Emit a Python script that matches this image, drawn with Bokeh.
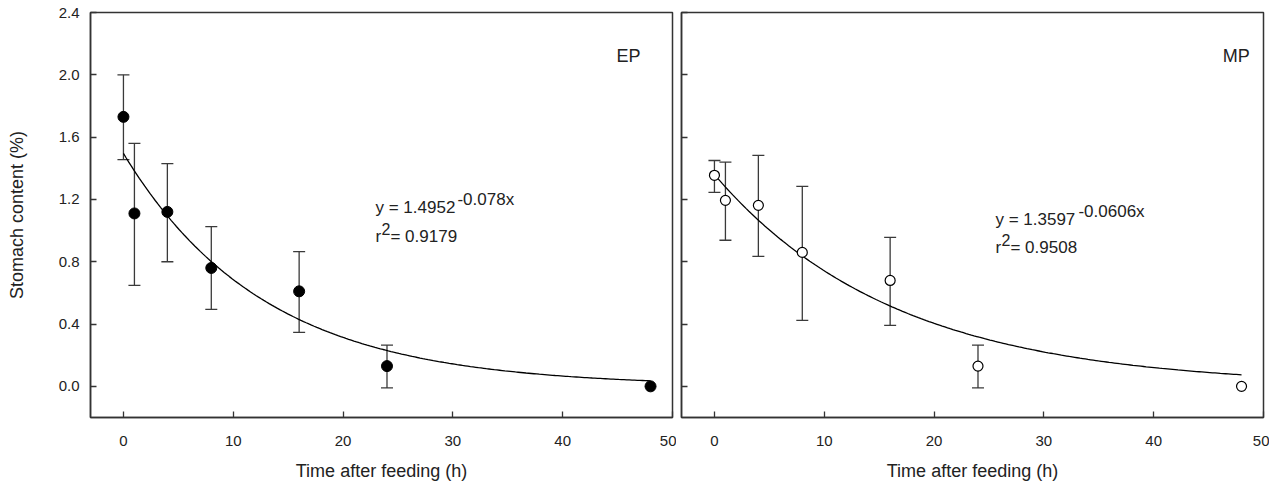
from bokeh.plotting import figure
from bokeh.layouts import row
from bokeh.models import (ColumnDataSource, Whisker, TeeHead, Label, FixedTicker,
                          NumeralTickFormatter, Range1d)
from bokeh.embed import file_html
from bokeh.resources import INLINE
import numpy as np

# ---------------- data ----------------
time_h = [0, 1, 4, 8, 16, 24, 48]
ep_mean = [1.73, 1.11, 1.12, 0.76, 0.61, 0.13, 0.0]
ep_upper = [2.00, 1.56, 1.43, 1.025, 0.865, 0.265]
ep_lower = [1.455, 0.648, 0.80, 0.494, 0.347, -0.01]
mp_mean = [1.355, 1.194, 1.162, 0.86, 0.68, 0.13, 0.0]
mp_upper = [1.45, 1.44, 1.483, 1.284, 0.956, 0.265]
mp_lower = [1.245, 0.938, 0.834, 0.424, 0.392, -0.01]

ep_a, ep_b, ep_r2 = 1.4952, -0.078, 0.9179
mp_a, mp_b, mp_r2 = 1.3597, -0.0606, 0.9508

x_ticks = [0, 10, 20, 30, 40, 50]
y_ticks = [0.0, 0.4, 0.8, 1.2, 1.6, 2.0, 2.4]

FONT = "Liberation Sans"
TXT = "#222222"
LINE = "#333333"


def make_panel(mean, upper, lower, a, b, filled, show_ylabels, width, mbl, mbr):
    p = figure(width=width, height=483, output_backend="svg", toolbar_location=None,
               x_range=Range1d(-3, 50), y_range=Range1d(-0.2, 2.4),
               min_border_left=mbl, min_border_right=mbr,
               min_border_top=12, min_border_bottom=66)
    p.background_fill_color = "white"
    p.border_fill_color = "white"
    p.outline_line_color = LINE
    p.outline_line_width = 1.5
    p.xgrid.visible = False
    p.ygrid.visible = False

    for ax in (p.xaxis[0], p.yaxis[0]):
        ax.axis_line_color = LINE
        ax.axis_line_width = 1.5
        ax.major_tick_in = 6
        ax.major_tick_out = 0
        ax.major_tick_line_color = LINE
        ax.major_tick_line_width = 1.3
        ax.minor_tick_line_color = None
        ax.major_label_text_font = FONT
        ax.major_label_text_font_size = "15px"
        ax.major_label_text_color = TXT
        ax.axis_label_text_font = FONT
        ax.axis_label_text_font_size = "18px"
        ax.axis_label_text_font_style = "normal"
        ax.axis_label_text_color = TXT

    p.xaxis.ticker = FixedTicker(ticks=x_ticks)
    p.xaxis.major_label_standoff = 18
    p.xaxis.axis_label = "Time after feeding (h)"
    p.xaxis.axis_label_standoff = 12

    p.yaxis.ticker = FixedTicker(ticks=y_ticks)
    if show_ylabels:
        p.yaxis.formatter = NumeralTickFormatter(format="0.0")
        p.yaxis.major_label_standoff = 11
        p.yaxis.axis_label = "Stomach content (%)"
        p.yaxis.axis_label_standoff = 29
    else:
        p.yaxis.major_label_overrides = {t: "" for t in y_ticks}
        p.yaxis.major_label_standoff = 0

    # fitted curve from the printed equation
    xs = np.linspace(0, 48, 200)
    p.line(xs, a * np.exp(b * xs), line_color="black", line_width=1.3)

    # error bars
    n = len(upper)
    esrc = ColumnDataSource(dict(x=time_h[:n], upper=upper, lower=lower))
    w = Whisker(source=esrc, base="x", upper="upper", lower="lower",
                line_color="#3a3a3a", line_width=1.3,
                upper_head=TeeHead(size=12, line_color="#3a3a3a", line_width=1.3),
                lower_head=TeeHead(size=12, line_color="#3a3a3a", line_width=1.3))
    p.add_layout(w)

    src = ColumnDataSource(dict(x=time_h, y=mean))
    if filled:
        p.scatter("x", "y", source=src, size=11, fill_color="black", line_color="black")
    else:
        p.scatter("x", "y", source=src, size=10, fill_color="white", line_color="black",
                  line_width=1.2)
    return p


def add_eq(p, x0, yb1, yb2, a, b, r2, sup_dx):
    kw = dict(text_font=FONT, text_color=TXT, text_baseline="alphabetic",
              text_align="left", x_units="data", y_units="data")
    p.add_layout(Label(x=x0, y=yb1, text=f"y = {a:.4f}", text_font_size="17px", **kw))
    p.add_layout(Label(x=x0, y=yb1, x_offset=sup_dx, y_offset=8, text=f"{b:g}x",
                       text_font_size="17px", **kw))
    p.add_layout(Label(x=x0, y=yb2, text="r", text_font_size="17px", **kw))
    p.add_layout(Label(x=x0, y=yb2, x_offset=6, y_offset=7, text="2",
                       text_font_size="16px", **kw))
    p.add_layout(Label(x=x0, y=yb2, x_offset=15, text=f"= {r2:.4f}",
                       text_font_size="17px", **kw))


p1 = make_panel(ep_mean, ep_upper, ep_lower, ep_a, ep_b, True, True, 676, 90, 4)
add_eq(p1, 22.95, 1.150, 0.964, ep_a, ep_b, ep_r2, 82)
p1.add_layout(Label(x=44.9, y=2.118, text="EP", text_font=FONT, text_font_size="18px",
                    text_color=TXT, text_baseline="alphabetic"))

p2 = make_panel(mp_mean, mp_upper, mp_lower, mp_a, mp_b, False, False, 593, 5, 6)
add_eq(p2, 25.59, 1.073, 0.894, mp_a, mp_b, mp_r2, 83)
p2.add_layout(Label(x=46.3, y=2.118, text="MP", text_font=FONT, text_font_size="18px",
                    text_color=TXT, text_baseline="alphabetic"))

layout = row(p1, p2, spacing=0)
open("out.html", "w").write(file_html(layout, INLINE))
